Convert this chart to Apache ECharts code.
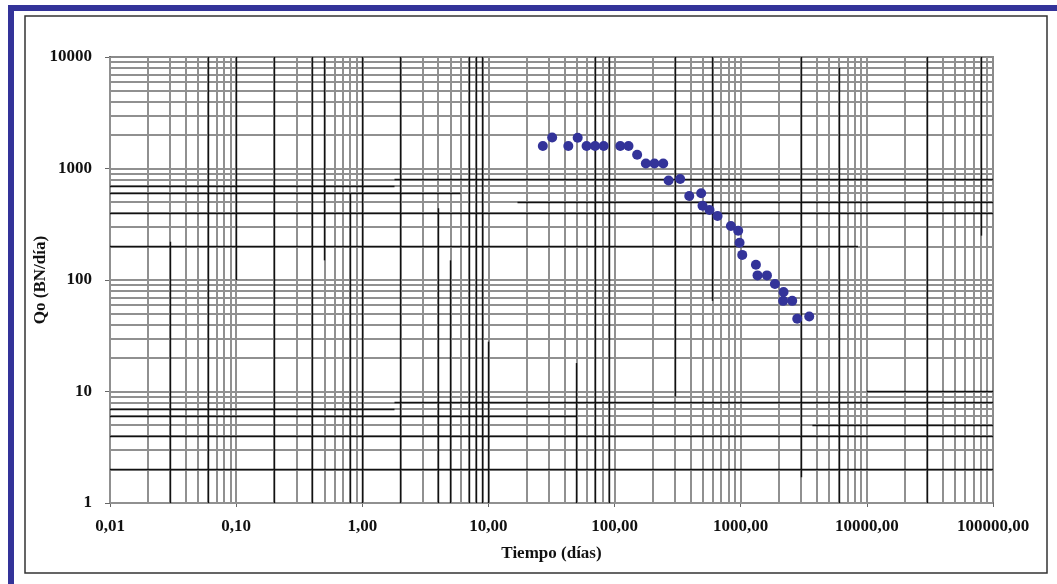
<!DOCTYPE html>
<html>
<head>
<meta charset="utf-8">
<title>Qo vs Tiempo</title>
<script src="https://cdn.jsdelivr.net/npm/echarts@6/dist/echarts.min.js"></script>
<style>
  html, body { margin: 0; padding: 0; background: #fff; }
  #main { width: 1057px; height: 584px; }
</style>
</head>
<body>
<div id="main"></div>
<script>
// datos
var tiempo = [27, 32, 43, 51, 60, 70, 82, 111, 129, 151, 177, 207, 243, 268, 331, 391,
  486, 498, 566, 655, 836, 955, 979, 1028, 1320, 1359, 1614, 1867, 2185, 2170, 2560, 2806, 3493];
var qo = [1590, 1900, 1590, 1890, 1590, 1590, 1590, 1590, 1590, 1330, 1110, 1110, 1110, 780, 805, 567,
  600, 464, 425, 375, 305, 277, 216, 168, 137, 110, 110, 92, 78, 65, 65, 45, 47];

var xTickLabels = ['0,01', '0,10', '1,00', '10,00', '100,00', '1000,00', '10000,00', '100000,00'];
var yTickLabels = ['1', '10', '100', '1000', '10000'];

// lineas negras de la cuadricula (valor, desde, hasta)
var blackV = [[0.03, 1, 220], [0.06, 1, 10000], [0.1, 100, 10000], [0.2, 1, 10000], [0.4, 1, 10000],
  [0.5, 150, 10000], [0.8, 1, 600], [1, 1, 10000], [2, 1, 10000], [4, 1, 440], [5, 1, 150],
  [7, 1, 10000], [8, 1, 10000], [9, 1, 10000], [10, 1, 28], [50, 1, 18], [70, 1, 10000],
  [90, 1, 10000], [300, 9, 10000], [600, 65, 10000], [3000, 1.7, 10000], [6000, 1, 8000],
  [30000, 1, 10000], [80000, 250, 10000]];
var blackH = [[800, 1.8, 100000], [700, 0.01, 1.8], [600, 0.01, 6], [500, 17, 100000],
  [400, 0.01, 100000], [200, 0.01, 8500], [10, 10000, 100000], [8, 1.8, 100000],
  [7, 0.01, 1.8], [6, 0.01, 50], [5, 3700, 100000], [4, 0.01, 100000], [2, 0.01, 100000]];

var X_MIN = 0.01, X_MAX = 100000, Y_MIN = 1, Y_MAX = 10000;

function logValues(min, max) {
  var out = [];
  for (var d = min; d < max * 0.999; d *= 10) {
    for (var k = 1; k <= 9; k++) out.push(+(d * k).toPrecision(3));
  }
  return out;
}

var grayLines = [];
logValues(X_MIN, X_MAX).forEach(function (v) {
  grayLines.push([{ coord: [v, Y_MIN] }, { coord: [v, Y_MAX] }]);
});
logValues(Y_MIN, Y_MAX).forEach(function (v) {
  grayLines.push([{ coord: [X_MIN, v] }, { coord: [X_MAX, v] }]);
});

var blackLines = [];
blackV.forEach(function (l) {
  blackLines.push([{ coord: [l[0], l[1]] }, { coord: [l[0], l[2]] }]);
});
blackH.forEach(function (l) {
  blackLines.push([{ coord: [l[1], l[0]] }, { coord: [l[2], l[0]] }]);
});

var serif = '"Liberation Serif", "DejaVu Serif", serif';

var myChart = echarts.init(document.getElementById('main'));
var option = {
  animation: false,
  backgroundColor: '#fff',
  graphic: [
    { type: 'rect', shape: { x: 8, y: 5, width: 1049, height: 6 }, style: { fill: '#333399' } },
    { type: 'rect', shape: { x: 8, y: 5, width: 6, height: 579 }, style: { fill: '#333399' } },
    { type: 'rect', shape: { x: 25, y: 16, width: 1022, height: 557 },
      style: { fill: 'none', stroke: '#333', lineWidth: 1.5 } }
  ],
  grid: {
    left: 110, right: 64, top: 57, bottom: 81,
    show: true, borderColor: '#8a8a8a', borderWidth: 2
  },
  xAxis: {
    type: 'log', logBase: 10, min: X_MIN, max: X_MAX,
    name: 'Tiempo (días)', nameLocation: 'middle', nameGap: 42, nameMoveOverlap: false,
    nameTextStyle: { fontFamily: serif, fontWeight: 'bold', fontSize: 17, color: '#111' },
    axisLine: { lineStyle: { color: '#666', width: 2 } },
    axisTick: { show: true, length: 4, lineStyle: { color: '#666' } },
    axisLabel: {
      margin: 15, fontFamily: serif, fontWeight: 'bold', fontSize: 17, color: '#111',
      formatter: function (v, i) { return xTickLabels[i]; }
    },
    splitLine: { show: false }
  },
  yAxis: {
    type: 'log', logBase: 10, min: Y_MIN, max: Y_MAX,
    name: 'Qo (BN/día)', nameLocation: 'middle', nameGap: 61, nameMoveOverlap: false,
    nameTextStyle: { fontFamily: serif, fontWeight: 'bold', fontSize: 17, color: '#111' },
    axisLine: { lineStyle: { color: '#666', width: 2 } },
    axisTick: { show: true, length: 5, lineStyle: { color: '#666' } },
    axisLabel: {
      margin: 18, fontFamily: serif, fontWeight: 'bold', fontSize: 17, color: '#111',
      formatter: function (v, i) { return yTickLabels[i]; }
    },
    splitLine: { show: false }
  },
  series: [
    {
      type: 'scatter', data: [], silent: true,
      markLine: {
        silent: true, symbol: 'none', label: { show: false },
        lineStyle: { color: '#909090', width: 2, type: 'solid' },
        emphasis: { disabled: true },
        data: grayLines
      }
    },
    {
      type: 'scatter', data: [], silent: true,
      markLine: {
        silent: true, symbol: 'none', label: { show: false },
        lineStyle: { color: '#111', width: 1.4, type: 'solid' },
        emphasis: { disabled: true },
        data: blackLines
      }
    },
    {
      name: 'Qo',
      type: 'scatter',
      z: 10,
      symbolSize: 10,
      itemStyle: { color: '#333399', opacity: 1 },
      data: tiempo.map(function (t, i) { return [t, qo[i]]; })
    }
  ]
};
myChart.setOption(option);
window.onresize = myChart.resize;
</script>
</body>
</html>
